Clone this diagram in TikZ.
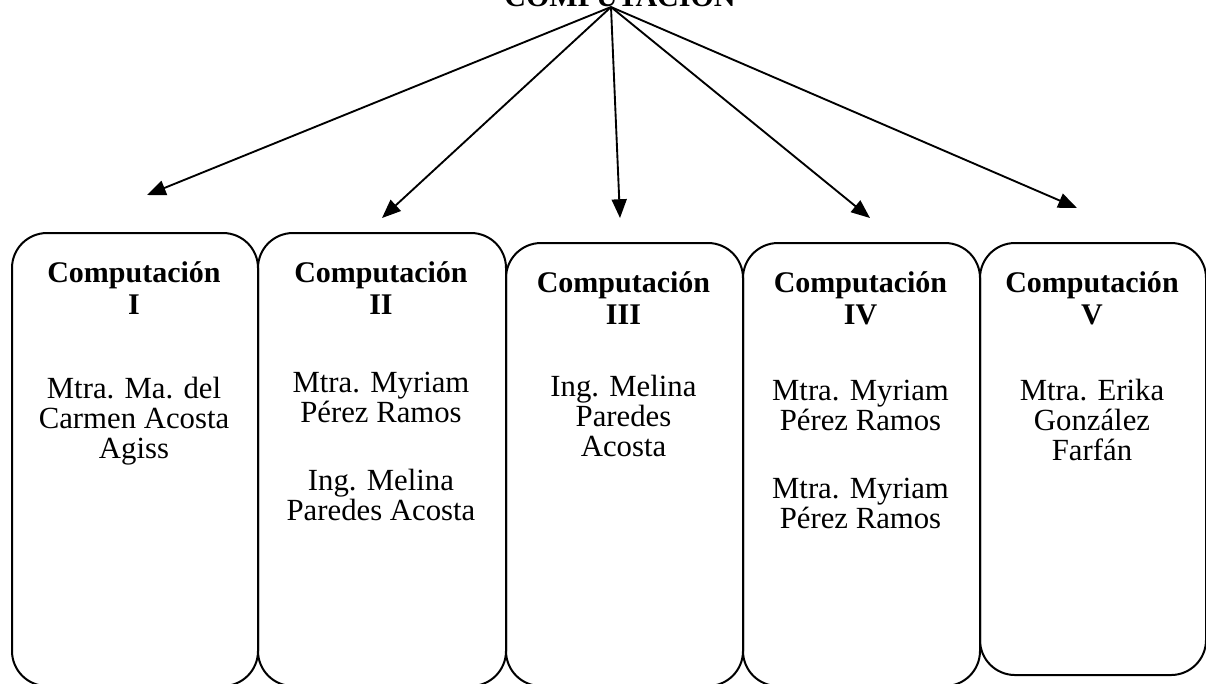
\documentclass[tikz,border=0pt]{standalone}
\usepackage{fontspec}
\setmainfont{Liberation Serif}
\usetikzlibrary{arrows.meta}
\begin{document}
\begin{tikzpicture}[x=0.4pt,y=-0.4pt,
  box/.style={draw, line width=0.8pt, rounded corners=14pt, inner sep=0pt, anchor=north west},
  head/.style={font=\bfseries\fontsize{12}{12.8}\selectfont, align=center, anchor=north, inner sep=0pt},
  names/.style={font=\fontsize{12.3}{12}\selectfont, align=center, anchor=north, inner sep=0pt},
  arr/.style={line width=0.75pt, -{Triangle[length=7.5pt,width=6pt]}}]
\clip (0,0) rectangle (1206,683);
% title
\node[font=\bfseries\fontsize{12}{14}\selectfont, anchor=base, inner sep=0pt] (title) at (620,6) {COMPUTACIÓN};
\coordinate (apex) at (611,7);
% boxes
\node[box, minimum width=98.4pt, minimum height=181.2pt] (b1) at (11,232) {};
\node[box, minimum width=99.2pt, minimum height=181.2pt] (b2) at (257,232) {};
\node[box, minimum width=94.8pt, minimum height=177.2pt] (b3) at (505,242) {};
\node[box, minimum width=94.8pt, minimum height=177.2pt] (b4) at (742,242) {};
\node[box, minimum width=90.4pt, minimum height=172.8pt] (b5) at (979,242) {};
% headings
\node[head] (h1) at (134,261) {Computación\\I};
\node[head] (h2) at (381,261) {Computación\\II};
\node[head] (h3) at (623.5,271) {Computación\\III};
\node[head] (h4) at (860.5,271) {Computación\\IV};
\node[head] (h5) at (1092,271) {Computación\\V};
% names
\node[names] (n1) at (134,377) {Mtra. Ma. del\\Carmen Acosta\\Agiss};
\node[names] (n2) at (381,372) {Mtra. Myriam\\Pérez Ramos\\[15pt]Ing. Melina\\Paredes Acosta};
\node[names] (n3) at (623.5,375) {Ing. Melina\\Paredes\\Acosta};
\node[names] (n4) at (860.5,380) {Mtra. Myriam\\Pérez Ramos\\[15pt]Mtra. Myriam\\Pérez Ramos};
\node[names] (n5) at (1092,379) {Mtra. Erika\\González\\Farfán};
% arrow tips
\coordinate (t1) at (147,195);
\coordinate (t2) at (382,218);
\coordinate (t3) at (620,218);
\coordinate (t4) at (870,218);
\coordinate (t5) at (1077,208);
\foreach \t in {t1,t2,t3,t4,t5} \draw[arr] (apex) -- (\t);
\end{tikzpicture}
\end{document}
